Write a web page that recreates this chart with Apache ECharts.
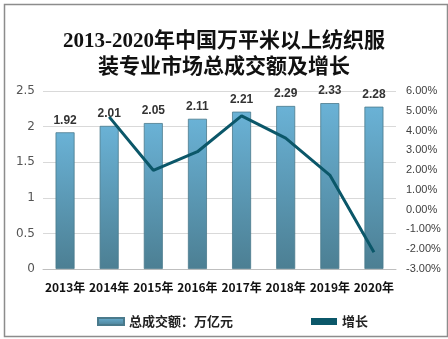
<!DOCTYPE html>
<html><head><meta charset="utf-8">
<script src="https://cdn.jsdelivr.net/npm/echarts@6/dist/echarts.min.js"></script>
<style>html,body{margin:0;padding:0;background:#fff}#c{width:448px;height:339px}</style>
</head><body><div id="c"></div>
<script>
const categories = ['2013年','2014年','2015年','2016年','2017年','2018年','2019年','2020年'];
const totalValues = [1.92, 2.01, 2.05, 2.11, 2.21, 2.29, 2.33, 2.28];
const growthValues = [null, 4.69, 1.99, 2.93, 4.74, 3.62, 1.75, -2.15];
const titleLines = ['2013-2020年中国万平米以上纺织服', '装专业市场总成交额及增长'];
const seriesNames = ['总成交额：万亿元', '增长'];

const chart = echarts.init(document.getElementById('c'), null, {renderer: 'canvas'});
chart.setOption({
  animation: false,
  backgroundColor: '#fff',
  graphic: [{
    type: 'rect', left: 2, top: 2, shape: {width: 443, height: 332},
    style: {fill: 'none', stroke: '#8c8c8c', lineWidth: 1.5}, silent: true
  }],
  title: {
    text: titleLines.join('\n'),
    left: 'center', top: 24,
    textStyle: {fontFamily: 'Liberation Serif, "Noto Sans CJK SC", serif', fontSize: 21, fontWeight: 'bold', color: '#111', lineHeight: 26}
  },
  legend: {
    left: 92, top: 310, itemGap: 78, itemWidth: 26, itemHeight: 7,
    textStyle: {fontFamily: '"Noto Sans CJK SC", sans-serif', fontSize: 13, fontWeight: 'bold', color: '#222'},
    data: [{name: seriesNames[0], icon: 'rect'}, {name: seriesNames[1], icon: 'rect', itemStyle: {color: '#0b5769'}}]
  },
  grid: {left: 43, right: 52, top: 91, bottom: 70},
  xAxis: {
    type: 'category', data: categories,
    axisLine: {lineStyle: {color: '#bfbfbf'}}, axisTick: {show: false},
    axisLabel: {margin: 12, fontSize: 12, fontWeight: 'bold', color: '#111', fontFamily: '"Noto Sans CJK SC", sans-serif', interval: 0}
  },
  yAxis: [{
    type: 'value', min: 0, max: 2.5, interval: 0.5,
    axisLine: {show: false}, axisTick: {show: false},
    splitLine: {lineStyle: {color: '#d9d9d9'}},
    axisLabel: {margin: 8, fontSize: 12, color: '#555', fontFamily: 'DejaVu Sans, sans-serif'}
  }, {
    type: 'value', min: -3, max: 6, interval: 1,
    axisLine: {show: false}, axisTick: {show: false}, splitLine: {show: false},
    axisLabel: {margin: 10, fontSize: 11, color: '#404040', fontFamily: 'Liberation Sans, sans-serif',
      formatter: v => v.toFixed(2) + '%'}
  }],
  series: [{
    name: seriesNames[0], type: 'bar', data: totalValues, barWidth: 19, yAxisIndex: 0,
    itemStyle: {
      color: new echarts.graphic.LinearGradient(0, 0, 0, 1, [
        {offset: 0, color: '#6ab2d6'}, {offset: 1, color: '#4c7f93'}]),
      borderColor: '#4a7a8c', borderWidth: 0.8
    },
    label: {show: true, position: 'top', distance: 6, fontSize: 12, fontWeight: 'bold', color: '#333', fontFamily: 'Liberation Sans, sans-serif'}
  }, {
    name: seriesNames[1], type: 'line', data: growthValues, yAxisIndex: 1,
    symbol: 'none', lineStyle: {color: '#0b5769', width: 3}, itemStyle: {color: '#0b5769'}
  }]
});
</script></body></html>
